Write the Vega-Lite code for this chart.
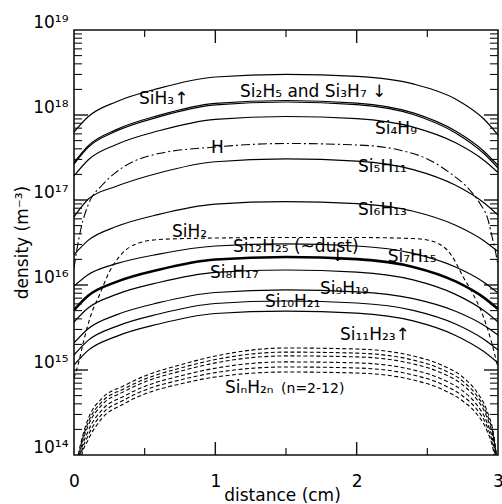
{
  "$schema": "https://vega.github.io/schema/vega-lite/v6.json",
  "width": 424,
  "height": 425,
  "autosize": {"type": "none"},
  "padding": {"left": 74, "top": 30, "right": 4, "bottom": 49},
  "background": "white",
  "config": {
    "view": {"stroke": "#111", "strokeWidth": 1.6},
    "axis": {"domain": false, "grid": false, "labelColor": "#000", "titleColor": "#000", "labelFont": "DejaVu Sans", "titleFont": "DejaVu Sans", "labelFontSize": 17, "titleFontSize": 17, "titleFontWeight": "normal", "labelFlush": false, "labelOverlap": false, "labelBound": false}
  },
  "datasets": {
    "solid": [
      {"s":"SiH3","x":0,"y":6.31e17},{"s":"SiH3","x":0.1,"y":9.55e17},{"s":"SiH3","x":0.3,"y":1.434e18},{"s":"SiH3","x":0.6,"y":2.061e18},{"s":"SiH3","x":1,"y":2.80e18},{"s":"SiH3","x":1.5,"y":3.01e18},{"s":"SiH3","x":2,"y":2.84e18},{"s":"SiH3","x":2.4,"y":2.32e18},{"s":"SiH3","x":2.7,"y":1.54e18},{"s":"SiH3","x":2.9,"y":8.97e17},{"s":"SiH3","x":3,"y":5.82e17},
      {"s":"Si2H5","x":0,"y":2.76e17},{"s":"Si2H5","x":0.1,"y":4.34e17},{"s":"Si2H5","x":0.3,"y":6.73e17},{"s":"Si2H5","x":0.6,"y":9.89e17},{"s":"Si2H5","x":1,"y":1.369e18},{"s":"Si2H5","x":1.5,"y":1.481e18},{"s":"Si2H5","x":2,"y":1.380e18},{"s":"Si2H5","x":2.4,"y":1.059e18},{"s":"Si2H5","x":2.7,"y":6.47e17},{"s":"Si2H5","x":2.9,"y":3.75e17},{"s":"Si2H5","x":3,"y":2.55e17},
      {"s":"Si3H7","x":0,"y":2.65e17},{"s":"Si3H7","x":0.1,"y":4.17e17},{"s":"Si3H7","x":0.3,"y":6.47e17},{"s":"Si3H7","x":0.6,"y":9.50e17},{"s":"Si3H7","x":1,"y":1.315e18},{"s":"Si3H7","x":1.5,"y":1.422e18},{"s":"Si3H7","x":2,"y":1.326e18},{"s":"Si3H7","x":2.4,"y":1.014e18},{"s":"Si3H7","x":2.7,"y":6.14e17},{"s":"Si3H7","x":2.9,"y":3.52e17},{"s":"Si3H7","x":3,"y":2.38e17},
      {"s":"Si4H9","x":0,"y":1.916e17},{"s":"Si4H9","x":0.1,"y":2.96e17},{"s":"Si4H9","x":0.3,"y":4.50e17},{"s":"Si4H9","x":0.6,"y":6.52e17},{"s":"Si4H9","x":1,"y":8.90e17},{"s":"Si4H9","x":1.5,"y":9.60e17},{"s":"Si4H9","x":2,"y":9.05e17},{"s":"Si4H9","x":2.4,"y":7.20e17},{"s":"Si4H9","x":2.7,"y":4.71e17},{"s":"Si4H9","x":2.9,"y":2.94e17},{"s":"Si4H9","x":3,"y":2.11e17},
      {"s":"Si5H11","x":0,"y":6.31e16},{"s":"Si5H11","x":0.1,"y":1.019e17},{"s":"Si5H11","x":0.3,"y":1.449e17},{"s":"Si5H11","x":0.6,"y":2.08e17},{"s":"Si5H11","x":1,"y":2.82e17},{"s":"Si5H11","x":1.5,"y":3.04e17},{"s":"Si5H11","x":2,"y":2.86e17},{"s":"Si5H11","x":2.4,"y":2.28e17},{"s":"Si5H11","x":2.7,"y":1.489e17},{"s":"Si5H11","x":2.9,"y":9.29e16},{"s":"Si5H11","x":3,"y":6.66e16},
      {"s":"Si6H13","x":0,"y":2.27e16},{"s":"Si6H13","x":0.1,"y":3.35e16},{"s":"Si6H13","x":0.3,"y":4.87e16},{"s":"Si6H13","x":0.6,"y":6.77e16},{"s":"Si6H13","x":1,"y":8.93e16},{"s":"Si6H13","x":1.5,"y":9.55e16},{"s":"Si6H13","x":2,"y":9.05e16},{"s":"Si6H13","x":2.4,"y":7.38e16},{"s":"Si6H13","x":2.7,"y":5.05e16},{"s":"Si6H13","x":2.9,"y":3.32e16},{"s":"Si6H13","x":3,"y":2.47e16},
      {"s":"Si7H15","x":0,"y":9.73e15},{"s":"Si7H15","x":0.1,"y":1.322e16},{"s":"Si7H15","x":0.3,"y":1.781e16},{"s":"Si7H15","x":0.6,"y":2.31e16},{"s":"Si7H15","x":1,"y":2.876e16},{"s":"Si7H15","x":1.5,"y":3.04e16},{"s":"Si7H15","x":2,"y":2.876e16},{"s":"Si7H15","x":2.4,"y":2.36e16},{"s":"Si7H15","x":2.7,"y":1.629e16},{"s":"Si7H15","x":2.9,"y":1.079e16},{"s":"Si7H15","x":3,"y":8.05e15},
      {"s":"Si8H17","x":0,"y":3.67e15},{"s":"Si8H17","x":0.1,"y":5.36e15},{"s":"Si8H17","x":0.3,"y":7.75e15},{"s":"Si8H17","x":0.6,"y":1.070e16},{"s":"Si8H17","x":1,"y":1.407e16},{"s":"Si8H17","x":1.5,"y":1.502e16},{"s":"Si8H17","x":2,"y":1.418e16},{"s":"Si8H17","x":2.4,"y":1.148e16},{"s":"Si8H17","x":2.7,"y":7.75e15},{"s":"Si8H17","x":2.9,"y":5.00e15},{"s":"Si8H17","x":3,"y":3.67e15},
      {"s":"Si9H19","x":0,"y":2.08e15},{"s":"Si9H19","x":0.1,"y":3.06e15},{"s":"Si9H19","x":0.3,"y":4.45e15},{"s":"Si9H19","x":0.6,"y":6.19e15},{"s":"Si9H19","x":1,"y":8.16e15},{"s":"Si9H19","x":1.5,"y":8.74e15},{"s":"Si9H19","x":2,"y":8.32e15},{"s":"Si9H19","x":2.4,"y":6.92e15},{"s":"Si9H19","x":2.7,"y":4.92e15},{"s":"Si9H19","x":2.9,"y":3.37e15},{"s":"Si9H19","x":3,"y":2.58e15},
      {"s":"Si10H21","x":0,"y":1.502e15},{"s":"Si10H21","x":0.1,"y":2.23e15},{"s":"Si10H21","x":0.3,"y":3.26e15},{"s":"Si10H21","x":0.6,"y":4.56e15},{"s":"Si10H21","x":1,"y":6.06e15},{"s":"Si10H21","x":1.5,"y":6.48e15},{"s":"Si10H21","x":2,"y":6.14e15},{"s":"Si10H21","x":2.4,"y":5.04e15},{"s":"Si10H21","x":2.7,"y":3.48e15},{"s":"Si10H21","x":2.9,"y":2.30e15},{"s":"Si10H21","x":3,"y":1.719e15},
      {"s":"Si11H23","x":0,"y":1.145e15},{"s":"Si11H23","x":0.1,"y":1.70e15},{"s":"Si11H23","x":0.3,"y":2.49e15},{"s":"Si11H23","x":0.6,"y":3.48e15},{"s":"Si11H23","x":1,"y":4.62e15},{"s":"Si11H23","x":1.5,"y":4.94e15},{"s":"Si11H23","x":2,"y":4.67e15},{"s":"Si11H23","x":2.4,"y":3.78e15},{"s":"Si11H23","x":2.7,"y":2.55e15},{"s":"Si11H23","x":2.9,"y":1.646e15},{"s":"Si11H23","x":3,"y":1.209e15}
    ],
    "bold": [
      {"s":"Si12H25","x":0,"y":5.08e15},{"s":"Si12H25","x":0.1,"y":7.48e15},{"s":"Si12H25","x":0.3,"y":1.088e16},{"s":"Si12H25","x":0.6,"y":1.514e16},{"s":"Si12H25","x":1,"y":1.995e16},{"s":"Si12H25","x":1.5,"y":2.135e16},{"s":"Si12H25","x":2,"y":2.017e16},{"s":"Si12H25","x":2.4,"y":1.633e16},{"s":"Si12H25","x":2.7,"y":1.103e16},{"s":"Si12H25","x":2.9,"y":7.11e15},{"s":"Si12H25","x":3,"y":5.22e15}
    ],
    "dashed": [
      {"s":"L1","x":0.03,"y":1.0e14},{"s":"L1","x":0.05,"y":1.422e14},{"s":"L1","x":0.1,"y":2.65e14},{"s":"L1","x":0.2,"y":4.68e14},{"s":"L1","x":0.35,"y":6.48e14},{"s":"L1","x":0.5,"y":8.50e14},{"s":"L1","x":0.75,"y":1.145e15},{"s":"L1","x":1,"y":1.461e15},{"s":"L1","x":1.5,"y":1.815e15},{"s":"L1","x":2,"y":1.766e15},{"s":"L1","x":2.4,"y":1.461e15},{"s":"L1","x":2.6,"y":1.145e15},{"s":"L1","x":2.75,"y":8.27e14},{"s":"L1","x":2.85,"y":5.51e14},{"s":"L1","x":2.92,"y":3.38e14},{"s":"L1","x":2.97,"y":1.719e14},{"s":"L1","x":2.99,"y":1.0e14},
      {"s":"L2","x":0.03,"y":9.12e13},{"s":"L2","x":0.05,"y":1.322e14},{"s":"L2","x":0.1,"y":2.405e14},{"s":"L2","x":0.2,"y":4.27e14},{"s":"L2","x":0.35,"y":5.96e14},{"s":"L2","x":0.5,"y":7.81e14},{"s":"L2","x":0.75,"y":1.05e15},{"s":"L2","x":1,"y":1.326e15},{"s":"L2","x":1.5,"y":1.624e15},{"s":"L2","x":2,"y":1.58e15},{"s":"L2","x":2.4,"y":1.308e15},{"s":"L2","x":2.6,"y":1.025e15},{"s":"L2","x":2.75,"y":7.40e14},{"s":"L2","x":2.85,"y":4.98e14},{"s":"L2","x":2.92,"y":3.09e14},{"s":"L2","x":2.97,"y":1.589e14},{"s":"L2","x":2.99,"y":9.42e13},
      {"s":"L3","x":0.03,"y":8.36e13},{"s":"L3","x":0.05,"y":1.232e14},{"s":"L3","x":0.1,"y":2.20e14},{"s":"L3","x":0.2,"y":3.92e14},{"s":"L3","x":0.35,"y":5.53e14},{"s":"L3","x":0.5,"y":7.24e14},{"s":"L3","x":0.75,"y":9.65e14},{"s":"L3","x":1,"y":1.212e15},{"s":"L3","x":1.5,"y":1.465e15},{"s":"L3","x":2,"y":1.426e15},{"s":"L3","x":2.4,"y":1.18e15},{"s":"L3","x":2.6,"y":9.25e14},{"s":"L3","x":2.75,"y":6.68e14},{"s":"L3","x":2.85,"y":4.52e14},{"s":"L3","x":2.92,"y":2.83e14},{"s":"L3","x":2.97,"y":1.477e14},{"s":"L3","x":2.99,"y":8.90e13},
      {"s":"L4","x":0.03,"y":7.30e13},{"s":"L4","x":0.05,"y":1.105e14},{"s":"L4","x":0.1,"y":1.905e14},{"s":"L4","x":0.2,"y":3.42e14},{"s":"L4","x":0.35,"y":4.89e14},{"s":"L4","x":0.5,"y":6.41e14},{"s":"L4","x":0.75,"y":8.50e14},{"s":"L4","x":1,"y":1.05e15},{"s":"L4","x":1.5,"y":1.245e15},{"s":"L4","x":2,"y":1.212e15},{"s":"L4","x":2.4,"y":1.003e15},{"s":"L4","x":2.6,"y":7.86e14},{"s":"L4","x":2.75,"y":5.68e14},{"s":"L4","x":2.85,"y":3.90e14},{"s":"L4","x":2.92,"y":2.47e14},{"s":"L4","x":2.97,"y":1.314e14},{"s":"L4","x":2.99,"y":8.16e13},
      {"s":"L5","x":0.03,"y":6.52e13},{"s":"L5","x":0.05,"y":1.011e14},{"s":"L5","x":0.1,"y":1.691e14},{"s":"L5","x":0.2,"y":3.05e14},{"s":"L5","x":0.35,"y":4.41e14},{"s":"L5","x":0.5,"y":5.79e14},{"s":"L5","x":0.75,"y":7.63e14},{"s":"L5","x":1,"y":9.32e14},{"s":"L5","x":1.5,"y":1.085e15},{"s":"L5","x":2,"y":1.056e15},{"s":"L5","x":2.4,"y":8.74e14},{"s":"L5","x":2.6,"y":6.84e14},{"s":"L5","x":2.75,"y":4.94e14},{"s":"L5","x":2.85,"y":3.44e14},{"s":"L5","x":2.92,"y":2.21e14},{"s":"L5","x":2.97,"y":1.196e14},{"s":"L5","x":2.99,"y":7.56e13},
      {"s":"L6","x":0.03,"y":5.82e13},{"s":"L6","x":0.05,"y":9.22e13},{"s":"L6","x":0.1,"y":1.502e14},{"s":"L6","x":0.2,"y":2.72e14},{"s":"L6","x":0.35,"y":3.98e14},{"s":"L6","x":0.5,"y":5.22e14},{"s":"L6","x":0.75,"y":6.84e14},{"s":"L6","x":1,"y":8.27e14},{"s":"L6","x":1.5,"y":9.47e14},{"s":"L6","x":2,"y":9.22e14},{"s":"L6","x":2.4,"y":7.63e14},{"s":"L6","x":2.6,"y":5.98e14},{"s":"L6","x":2.75,"y":4.32e14},{"s":"L6","x":2.85,"y":3.04e14},{"s":"L6","x":2.92,"y":1.968e14},{"s":"L6","x":2.97,"y":1.085e14},{"s":"L6","x":2.99,"y":7.03e13}
    ],
    "hyd": [
      {"x":0,"y":1.585e16},{"x":0.02,"y":2.58e16},{"x":0.05,"y":4.68e16},{"x":0.1,"y":8.74e16},{"x":0.2,"y":1.502e17},{"x":0.3,"y":2.135e17},{"x":0.6,"y":3.52e17},{"x":1,"y":4.20e17},{"x":1.5,"y":4.62e17},{"x":2,"y":4.44e17},{"x":2.3,"y":3.88e17},{"x":2.5,"y":3.04e17},{"x":2.66,"y":2.08e17},{"x":2.8,"y":1.311e17},{"x":2.87,"y":9.22e16},{"x":2.93,"y":5.82e16},{"x":2.96,"y":3.57e16},{"x":2.98,"y":2.58e16},{"x":3,"y":1.719e16}
    ],
    "sih2": [
      {"x":0,"y":8.05e14},{"x":0.03,"y":1.177e15},{"x":0.07,"y":2.25e15},{"x":0.12,"y":4.44e15},{"x":0.18,"y":7.63e15},{"x":0.25,"y":1.422e16},{"x":0.33,"y":2.25e16},{"x":0.44,"y":3.04e16},{"x":0.6,"y":3.43e16},{"x":1,"y":3.57e16},{"x":1.5,"y":3.62e16},{"x":2,"y":3.62e16},{"x":2.4,"y":3.52e16},{"x":2.5,"y":3.38e16},{"x":2.64,"y":2.58e16},{"x":2.7,"y":1.865e16},{"x":2.75,"y":1.276e16},{"x":2.82,"y":8.05e15},{"x":2.9,"y":4.09e15},{"x":2.95,"y":2.25e15},{"x":3,"y":1.056e15}
    ],
    "ymaj": [{"v":1e15},{"v":1e16},{"v":1e17},{"v":1e18}],
    "ymin": [{"v":2e14},{"v":3e14},{"v":4e14},{"v":5e14},{"v":6e14},{"v":7e14},{"v":8e14},{"v":9e14},{"v":2e15},{"v":3e15},{"v":4e15},{"v":5e15},{"v":6e15},{"v":7e15},{"v":8e15},{"v":9e15},{"v":2e16},{"v":3e16},{"v":4e16},{"v":5e16},{"v":6e16},{"v":7e16},{"v":8e16},{"v":9e16},{"v":2e17},{"v":3e17},{"v":4e17},{"v":5e17},{"v":6e17},{"v":7e17},{"v":8e17},{"v":9e17},{"v":2e18},{"v":3e18},{"v":4e18},{"v":5e18},{"v":6e18},{"v":7e18},{"v":8e18},{"v":9e18}],
    "xmaj": [{"v":1},{"v":2}],
    "xmin": [{"v":0.5},{"v":1.5},{"v":2.5}],
    "labels": [
      {"t":"SiH₃↑","x":0.46,"y":1.35e18},
      {"t":"Si₂H₅ and Si₃H₇ ↓","x":1.175,"y":1.63e18},
      {"t":"Si₄H₉","x":2.13,"y":5.97e17},
      {"t":"Si₅H₁₁","x":2.01,"y":2.13e17},
      {"t":"Si₆H₁₃","x":2.01,"y":6.67e16},
      {"t":"SiH₂","x":0.693,"y":3.67e16},
      {"t":"Si₁₂H₂₅ (~dust)","x":1.125,"y":2.44e16},
      {"t":"↓","x":1.814,"y":1.91e16},
      {"t":"Si₇H₁₅","x":2.22,"y":1.865e16},
      {"t":"Si₈H₁₇","x":0.962,"y":1.21e16},
      {"t":"Si₉H₁₉","x":1.74,"y":7.83e15},
      {"t":"Si₁₀H₂₁","x":1.351,"y":5.51e15},
      {"t":"Si₁₁H₂₃↑","x":1.882,"y":2.25e15},
      {"t":"SiₙH₂ₙ","x":1.068,"y":5.36e14}
    ],
    "hlabel": [{"t":"H","x":1.015,"y":3.57e17}],
    "small": [{"t":"(n=2-12)","x":1.465,"y":5.36e14}]
  },
  "layer": [
    {
      "data": {"name": "solid"},
      "mark": {"type": "line", "interpolate": "monotone", "color": "#000", "strokeWidth": 1.2, "clip": true},
      "encoding": {
        "x": {"field": "x", "type": "quantitative", "scale": {"domain": [0, 3], "nice": false, "zero": false},
              "axis": {"orient": "bottom", "values": [0, 1, 2, 3], "ticks": false, "labelPadding": 31, "labelBaseline": "alphabetic", "format": "d", "title": "distance (cm)", "titleX": 208, "titleY": 45, "titleBaseline": "alphabetic", "titleAlign": "center"}},
        "y": {"field": "y", "type": "quantitative", "scale": {"type": "log", "domain": [1e14, 1e19], "nice": false},
              "axis": {"orient": "left", "values": [1e14, 1e15, 1e16, 1e17, 1e18, 1e19], "ticks": false, "labelPadding": 6, "labelBaseline": "alphabetic", "labelOffset": -3,
                       "labelExpr": "datum.value >= 9.9e18 ? '10¹⁹' : datum.value >= 9.9e17 ? '10¹⁸' : datum.value >= 9.9e16 ? '10¹⁷' : datum.value >= 9.9e15 ? '10¹⁶' : datum.value >= 9.9e14 ? '10¹⁵' : '10¹⁴'",
                       "title": "density (m⁻³)", "titleX": -52, "titleY": 212, "titleAngle": 270, "titleAlign": "center", "titleBaseline": "middle"}},
        "detail": {"field": "s"}
      }
    },
    {
      "data": {"name": "bold"},
      "mark": {"type": "line", "interpolate": "monotone", "color": "#000", "strokeWidth": 2.6, "clip": true},
      "encoding": {
        "x": {"field": "x", "type": "quantitative"},
        "y": {"field": "y", "type": "quantitative"},
        "detail": {"field": "s"}
      }
    },
    {
      "data": {"name": "dashed"},
      "mark": {"type": "line", "interpolate": "monotone", "color": "#000", "strokeWidth": 1.1, "strokeDash": [4, 2.5], "clip": true},
      "encoding": {
        "x": {"field": "x", "type": "quantitative"},
        "y": {"field": "y", "type": "quantitative"},
        "detail": {"field": "s"}
      }
    },
    {
      "data": {"name": "hyd"},
      "mark": {"type": "line", "interpolate": "monotone", "color": "#000", "strokeWidth": 1.1, "strokeDash": [9, 3, 2, 3], "clip": true},
      "encoding": {
        "x": {"field": "x", "type": "quantitative"},
        "y": {"field": "y", "type": "quantitative"}
      }
    },
    {
      "data": {"name": "sih2"},
      "mark": {"type": "line", "interpolate": "monotone", "color": "#000", "strokeWidth": 1.1, "strokeDash": [4, 3], "clip": true},
      "encoding": {
        "x": {"field": "x", "type": "quantitative"},
        "y": {"field": "y", "type": "quantitative"}
      }
    },
    {
      "data": {"name": "ymaj"},
      "mark": {"type": "rule", "color": "#111", "strokeWidth": 1.4},
      "encoding": {"y": {"field": "v", "type": "quantitative"}, "x": {"datum": 0}, "x2": {"datum": 0.099}}
    },
    {
      "data": {"name": "ymaj"},
      "mark": {"type": "rule", "color": "#111", "strokeWidth": 1.4},
      "encoding": {"y": {"field": "v", "type": "quantitative"}, "x": {"datum": 2.901}, "x2": {"datum": 3}}
    },
    {
      "data": {"name": "ymin"},
      "mark": {"type": "rule", "color": "#111", "strokeWidth": 1.1},
      "encoding": {"y": {"field": "v", "type": "quantitative"}, "x": {"datum": 0}, "x2": {"datum": 0.057}}
    },
    {
      "data": {"name": "ymin"},
      "mark": {"type": "rule", "color": "#111", "strokeWidth": 1.1},
      "encoding": {"y": {"field": "v", "type": "quantitative"}, "x": {"datum": 2.943}, "x2": {"datum": 3}}
    },
    {
      "data": {"name": "xmaj"},
      "mark": {"type": "rule", "color": "#111", "strokeWidth": 1.4},
      "encoding": {"x": {"field": "v", "type": "quantitative"}, "y": {"datum": 1e14}, "y2": {"datum": 1.42e14}}
    },
    {
      "data": {"name": "xmaj"},
      "mark": {"type": "rule", "color": "#111", "strokeWidth": 1.4},
      "encoding": {"x": {"field": "v", "type": "quantitative"}, "y": {"datum": 1e19}, "y2": {"datum": 7.03e18}}
    },
    {
      "data": {"name": "xmin"},
      "mark": {"type": "rule", "color": "#111", "strokeWidth": 1.2},
      "encoding": {"x": {"field": "v", "type": "quantitative"}, "y": {"datum": 1e14}, "y2": {"datum": 1.21e14}}
    },
    {
      "data": {"name": "xmin"},
      "mark": {"type": "rule", "color": "#111", "strokeWidth": 1.2},
      "encoding": {"x": {"field": "v", "type": "quantitative"}, "y": {"datum": 1e19}, "y2": {"datum": 8.27e18}}
    },
    {
      "data": {"name": "labels"},
      "mark": {"type": "text", "align": "left", "baseline": "alphabetic", "font": "DejaVu Sans", "fontSize": 17, "color": "#000"},
      "encoding": {
        "x": {"field": "x", "type": "quantitative"},
        "y": {"field": "y", "type": "quantitative"},
        "text": {"field": "t"}
      }
    },
    {
      "data": {"name": "hlabel"},
      "mark": {"type": "text", "align": "center", "baseline": "alphabetic", "font": "DejaVu Sans", "fontSize": 17, "color": "#000"},
      "encoding": {
        "x": {"field": "x", "type": "quantitative"},
        "y": {"field": "y", "type": "quantitative"},
        "text": {"field": "t"}
      }
    },
    {
      "data": {"name": "small"},
      "mark": {"type": "text", "align": "left", "baseline": "alphabetic", "font": "DejaVu Sans", "fontSize": 14, "color": "#000"},
      "encoding": {
        "x": {"field": "x", "type": "quantitative"},
        "y": {"field": "y", "type": "quantitative"},
        "text": {"field": "t"}
      }
    }
  ]
}
